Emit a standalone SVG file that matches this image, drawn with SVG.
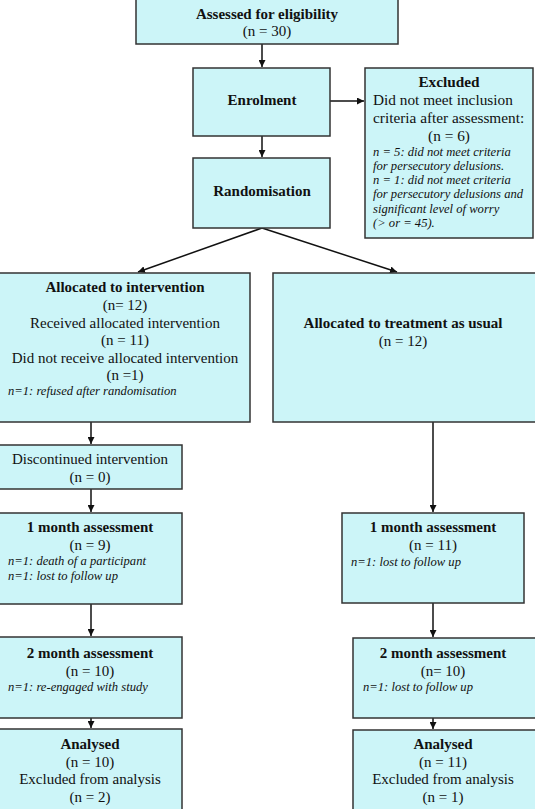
<svg xmlns="http://www.w3.org/2000/svg" width="535" height="809" viewBox="0 0 535 809">
<defs>
<marker id="ah" viewBox="0 0 10 10" refX="10" refY="5" markerWidth="7" markerHeight="7" markerUnits="userSpaceOnUse" orient="auto">
<path d="M0,0 L10,5 L0,10 z" fill="#111"/>
</marker>
<style>
.box{fill:#ccf5f8;stroke:#333;stroke-width:1.5}
text{font-family:"Liberation Serif","Times New Roman",serif;fill:#111}
.b{font-weight:bold;font-size:15px;text-anchor:middle}
.n{font-size:15px;text-anchor:middle}
.l{font-size:15.3px}
.i{font-style:italic;font-size:12.6px}
.c{stroke:#111;stroke-width:1.5;fill:none;marker-end:url(#ah)}
</style>
</defs>
<rect width="535" height="809" fill="#fff"/>
<g id="connectors">
<line class="c" x1="262" y1="44" x2="262" y2="67"/>
<line class="c" x1="262" y1="136" x2="262" y2="157"/>
<line class="c" x1="330" y1="101" x2="364" y2="101"/>
<line class="c" x1="262" y1="228" x2="138" y2="272"/>
<line class="c" x1="262" y1="228" x2="397" y2="272"/>
<line class="c" x1="91" y1="422" x2="91" y2="444"/>
<line class="c" x1="91" y1="489" x2="91" y2="512"/>
<line class="c" x1="91" y1="604" x2="91" y2="636"/>
<line class="c" x1="91" y1="718" x2="91" y2="728"/>
<line class="c" x1="433" y1="422" x2="433" y2="512"/>
<line class="c" x1="433" y1="603" x2="433" y2="637"/>
<line class="c" x1="433" y1="718" x2="433" y2="729"/>
</g>
<g id="assessed">
<rect class="box" x="136" y="-2" width="262" height="46"/>
<text class="b" x="267" y="19">Assessed for eligibility</text>
<text class="n" x="267" y="36">(n = 30)</text>
</g>
<g id="enrolment">
<rect class="box" x="193" y="68" width="137" height="68"/>
<text class="b" x="262" y="105">Enrolment</text>
</g>
<g id="randomisation">
<rect class="box" x="193" y="158" width="137" height="70"/>
<text class="b" x="262" y="196">Randomisation</text>
</g>
<g id="excluded">
<rect class="box" x="365" y="68" width="168" height="170"/>
<text class="b" x="449" y="87" style="font-size:15.3px">Excluded</text>
<text class="l" x="373" y="105">Did not meet inclusion</text>
<text class="l" x="373" y="123">criteria after assessment:</text>
<text class="n" x="449" y="141" style="font-size:15.3px">(n = 6)</text>
<text class="i" x="373" y="156">n = 5: did not meet criteria</text>
<text class="i" x="373" y="170">for persecutory delusions.</text>
<text class="i" x="373" y="184">n = 1: did not meet criteria</text>
<text class="i" x="373" y="198">for persecutory delusions and</text>
<text class="i" x="373" y="213">significant level of worry</text>
<text class="i" x="373" y="227">(&gt; or = 45).</text>
</g>
<g id="alloc-intervention">
<rect class="box" x="-1" y="273" width="251" height="149"/>
<text class="b" x="125" y="292">Allocated to intervention</text>
<text class="n" x="125" y="310">(n= 12)</text>
<text class="n" x="125" y="328">Received allocated intervention</text>
<text class="n" x="125" y="345">(n = 11)</text>
<text class="n" x="125" y="363">Did not receive allocated intervention</text>
<text class="n" x="125" y="380">(n =1)</text>
<text class="i" x="8" y="395">n=1: refused after randomisation</text>
</g>
<g id="alloc-tau">
<rect class="box" x="273" y="273" width="264" height="149"/>
<text class="b" x="403" y="328">Allocated to treatment as usual</text>
<text class="n" x="403" y="346">(n = 12)</text>
</g>
<g id="discontinued">
<rect class="box" x="-1" y="445" width="183" height="44"/>
<text class="n" x="90" y="464">Discontinued intervention</text>
<text class="n" x="90" y="482">(n = 0)</text>
</g>
<g id="month1-left">
<rect class="box" x="-1" y="513" width="183" height="91"/>
<text class="b" x="90" y="532">1 month assessment</text>
<text class="n" x="90" y="550">(n = 9)</text>
<text class="i" x="8" y="565">n=1: death of a participant</text>
<text class="i" x="8" y="580">n=1: lost to follow up</text>
</g>
<g id="month2-left">
<rect class="box" x="-1" y="637" width="183" height="81"/>
<text class="b" x="90" y="658">2 month assessment</text>
<text class="n" x="90" y="676">(n = 10)</text>
<text class="i" x="8" y="691">n=1: re-engaged with study</text>
</g>
<g id="analysed-left">
<rect class="box" x="-1" y="729" width="183" height="85"/>
<text class="b" x="90" y="749">Analysed</text>
<text class="n" x="90" y="767">(n = 10)</text>
<text class="n" x="90" y="784">Excluded from analysis</text>
<text class="n" x="90" y="802">(n = 2)</text>
</g>
<g id="month1-right">
<rect class="box" x="342" y="513" width="182" height="90"/>
<text class="b" x="433" y="532">1 month assessment</text>
<text class="n" x="433" y="550">(n = 11)</text>
<text class="i" x="351" y="566">n=1: lost to follow up</text>
</g>
<g id="month2-right">
<rect class="box" x="353" y="638" width="184" height="80"/>
<text class="b" x="443" y="658">2 month assessment</text>
<text class="n" x="443" y="676">(n= 10)</text>
<text class="i" x="363" y="691">n=1: lost to follow up</text>
</g>
<g id="analysed-right">
<rect class="box" x="353" y="730" width="184" height="84"/>
<text class="b" x="443" y="749">Analysed</text>
<text class="n" x="443" y="767">(n = 11)</text>
<text class="n" x="443" y="784">Excluded from analysis</text>
<text class="n" x="443" y="802">(n = 1)</text>
</g>
</svg>
